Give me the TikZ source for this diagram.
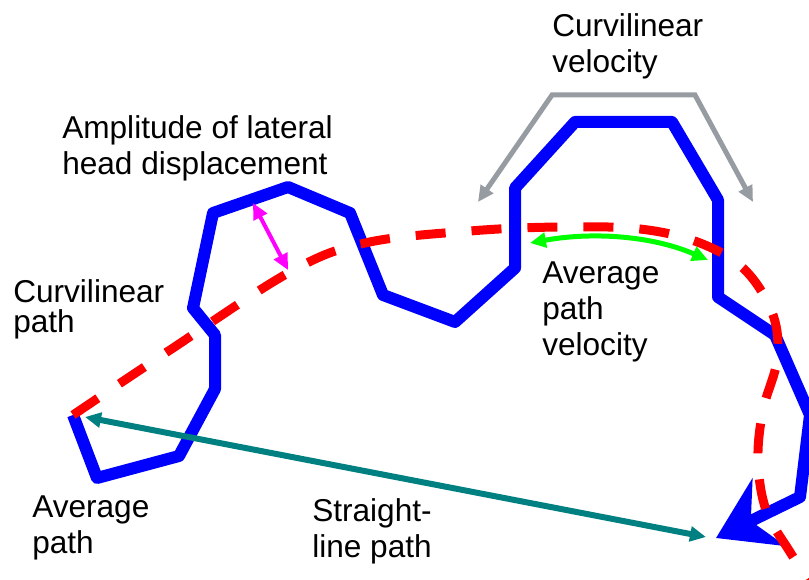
\documentclass[tikz,border=0pt]{standalone}
\usepackage{fontspec}
\setmainfont{Liberation Sans}
\usetikzlibrary{arrows.meta}
\definecolor{pathblue}{RGB}{0,0,255}
\definecolor{dashred}{RGB}{255,0,0}
\definecolor{velgray}{RGB}{150,156,161}
\definecolor{avggreen}{RGB}{0,255,0}
\definecolor{ampmagenta}{RGB}{255,0,255}
\definecolor{lineteal}{RGB}{0,128,128}

\begin{document}
\begin{tikzpicture}[x=0.75pt,y=-0.75pt,
  lbl/.style={anchor=base west,align=left,inner sep=0pt,font=\fontsize{23.7}{27}\selectfont},
  pointer/.style={line width=#1,{Triangle[length=12pt,width=11pt]}-{Triangle[length=12pt,width=11pt]}}]
\useasboundingbox (0,0) rectangle (809,580);
% curvilinear path
\draw[pathblue,line width=9pt,line join=round,-{Stealth[length=44pt,width=56pt,inset=15pt]}]
  (73,415) -- (97,478) -- (179,456) -- (215,389) -- (215,335) -- (193,308) -- (213,213)
  -- (288,187) -- (350,213) -- (383,295) -- (455,322) -- (515,268) -- (515,188)
  -- (575,122) -- (672,122) -- (718,200) -- (718,297) -- (775,335) -- (810,415)
  -- (800,497) -- (716,538);
% average path
\draw[dashred,line width=6.75pt,dash pattern=on 22.5pt off 19.5pt]
  plot[smooth,tension=0.6] coordinates {(73,415) (170,350) (290,272) (365,243) (470,231)
  (560,227) (640,229) (700,243) (745,270) (773,315) (777,360) (763,410) (758,460)
  (766,510) (790,552) (812,585)};
% arrow ends
\coordinate (velA) at (478,202);
\coordinate (velB) at (753,202);
\coordinate (avgA) at (530,243);
\coordinate (avgB) at (708,260);
\coordinate (ampA) at (253,203);
\coordinate (ampB) at (288,270);
\coordinate (lineA) at (85,417);
\coordinate (lineB) at (706,537);
\draw[pointer=3.75pt,velgray,line join=miter] (velA) -- (552,95) -- (695,95) -- (velB);
\draw[pointer=3.75pt,avggreen] (avgA) .. controls (590,232) and (650,235) .. (avgB);
\draw[pointer=3pt,ampmagenta] (ampA) -- (ampB);
\draw[pointer=4.5pt,lineteal] (lineA) -- (lineB);
% labels (anchored at the last line)
\node[lbl] (curvvel) at (552,73) {Curvilinear\\velocity};
\node[lbl] (amplitude) at (62,175) {Amplitude of lateral\\head displacement};
\node[lbl] (curvpath) at (13,333) {Curvilinear\\[-4pt]path};
\node[lbl] (avgvel) at (542,355) {Average\\path\\velocity};
\node[lbl] (avgpath) at (32,553) {Average\\path};
\node[lbl] (straight) at (312,557) {Straight-\\line path};
\end{tikzpicture}
\end{document}
